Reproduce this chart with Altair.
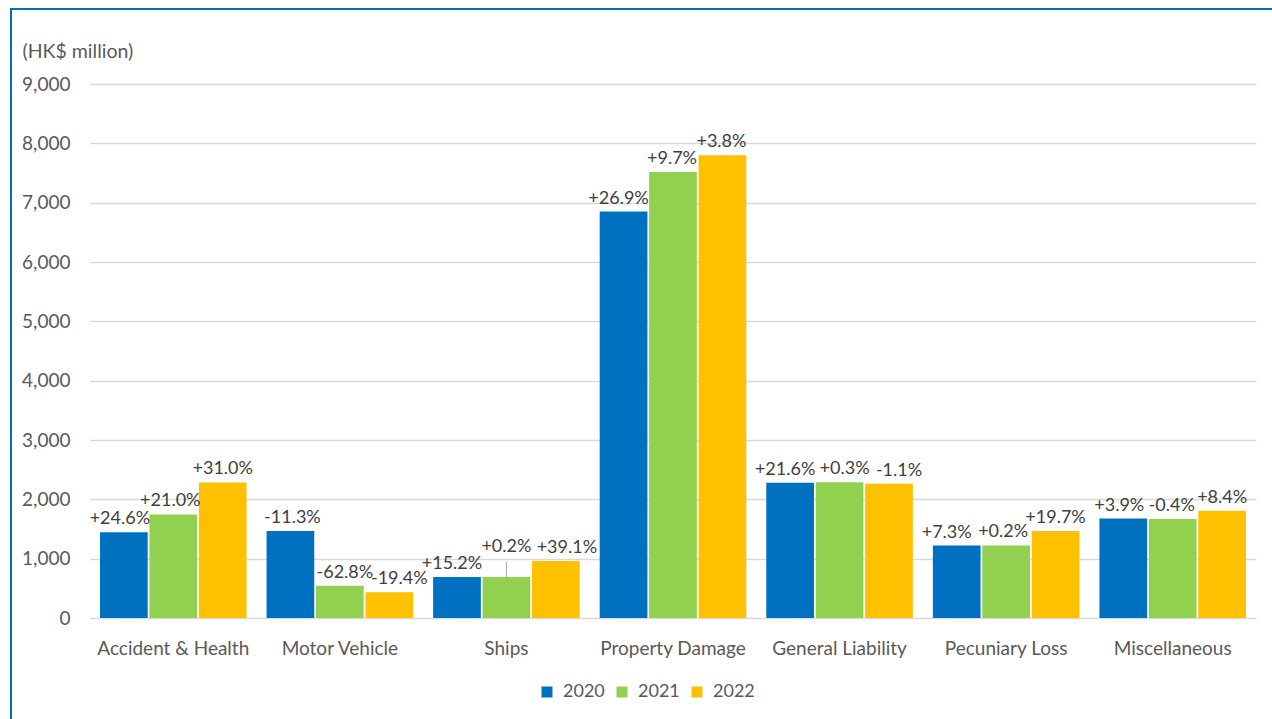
import altair as alt
import pandas as pd

categories = ["Accident & Health", "Motor Vehicle", "Ships", "Property Damage",
              "General Liability", "Pecuniary Loss", "Miscellaneous"]
years = ["2020", "2021", "2022"]
colors = ["#0070C0", "#92D050", "#FFC000"]

v2020 = [1445, 1465, 692, 6850, 2280, 1220, 1675]
v2021 = [1745, 545, 693, 7515, 2287, 1222, 1668]
v2022 = [2285, 435, 962, 7800, 2262, 1465, 1808]

g2020 = ["+24.6%", "-11.3%", "+15.2%", "+26.9%", "+21.6%", "+7.3%", "+3.9%"]
g2021 = ["+21.0%", "-62.8%", "+0.2%", "+9.7%", "+0.3%", "+0.2%", "-0.4%"]
g2022 = ["+31.0%", "-19.4%", "+39.1%", "+3.8%", "-1.1%", "+19.7%", "+8.4%"]

# label nudges as placed in the original (horizontal px shift, lift in value units)
dx2020 = [-4, 2, -5, -5, -5, -10, -4]
dx2021 = [-3, 5, 0, -1, 5, -3, -1]
dx2022 = [0, 10, 11, -1, 10, 0, 0]
lift2021 = [0, 0, 290, 0, 0, 0, 0]

rows = []
for i, c in enumerate(categories):
    for y, vals, gs, dxs, lifts in [("2020", v2020, g2020, dx2020, None),
                                    ("2021", v2021, g2021, dx2021, lift2021),
                                    ("2022", v2022, g2022, dx2022, None)]:
        lift = lifts[i] if lifts else 0
        rows.append({"category": c, "year": y, "value": vals[i],
                     "growth": gs[i], "lift": lift, "dx": dxs[i]})
df = pd.DataFrame(rows)

FONT = "Lato"
GREY = "#595959"

base = alt.Chart(df).encode(
    x=alt.X("category:N", sort=categories,
            scale=alt.Scale(paddingInner=0.12, paddingOuter=0.06),
            axis=alt.Axis(title=None, labelAngle=0, domain=False, ticks=False,
                          labelFontSize=19, labelColor=GREY, labelFont=FONT,
                          labelBaseline="alphabetic", labelPadding=36)),
    xOffset=alt.XOffset("year:N", sort=years, scale=alt.Scale(paddingInner=0.035)),
)

bars = base.mark_bar().encode(
    y=alt.Y("value:Q", scale=alt.Scale(domain=[0, 9000], nice=False),
            axis=alt.Axis(values=list(range(0, 9001, 1000)), format=",.0f",
                          title="(HK$ million)", titleAngle=0, titleAlign="left",
                          titleBaseline="alphabetic", titleX=-68, titleY=-27,
                          titleFontSize=19.5, titleFontWeight="normal", titleColor=GREY,
                          titleFont=FONT,
                          domain=False, ticks=False, labelFontSize=19,
                          labelColor=GREY, labelFont=FONT, labelPadding=20,
                          gridColor="#D9D9D9", gridWidth=1.5)),
    color=alt.Color("year:N", scale=alt.Scale(domain=years, range=colors),
                    legend=alt.Legend(title=None, orient="none", direction="horizontal",
                                      legendX=448, legendY=599, symbolType="square",
                                      symbolSize=121, symbolStrokeWidth=0,
                                      labelFontSize=18, labelColor=GREY, labelFont=FONT,
                                      labelOffset=7, columnPadding=8, padding=0)),
)

label_layers = []
for d in sorted(df["dx"].unique()):
    label_layers.append(
        base.transform_filter(f"datum.dx == {int(d)}").transform_calculate(
            label_y="datum.value + datum.lift"
        ).mark_text(baseline="alphabetic", dy=-8, dx=int(d), fontSize=18, font=FONT,
                    color="#404040").encode(
            y=alt.Y("label_y:Q"),
            text="growth:N",
        )
    )

leader = base.transform_filter("datum.lift > 0").transform_calculate(
    top="datum.value + datum.lift - 35"
).mark_rule(color="#A6A6A6", strokeWidth=1).encode(
    y="value:Q", y2="top:Q"
)

border = alt.Chart(alt.Data(values=[{}])).mark_rect(
    filled=False, stroke="#0070C0", strokeWidth=2
).encode(
    x=alt.value(-79), x2=alt.value(1300), y=alt.value(-75), y2=alt.value(800)
)

chart = alt.layer(bars, leader, *label_layers, border).properties(
    width=1166, height=534,
    autosize=alt.AutoSizeParams(type="none"),
    padding={"left": 90, "top": 84, "right": 16, "bottom": 101},
    background="white",
).configure_view(stroke=None)

chart.save("out.html", embed_options={"renderer": "svg", "actions": False})
